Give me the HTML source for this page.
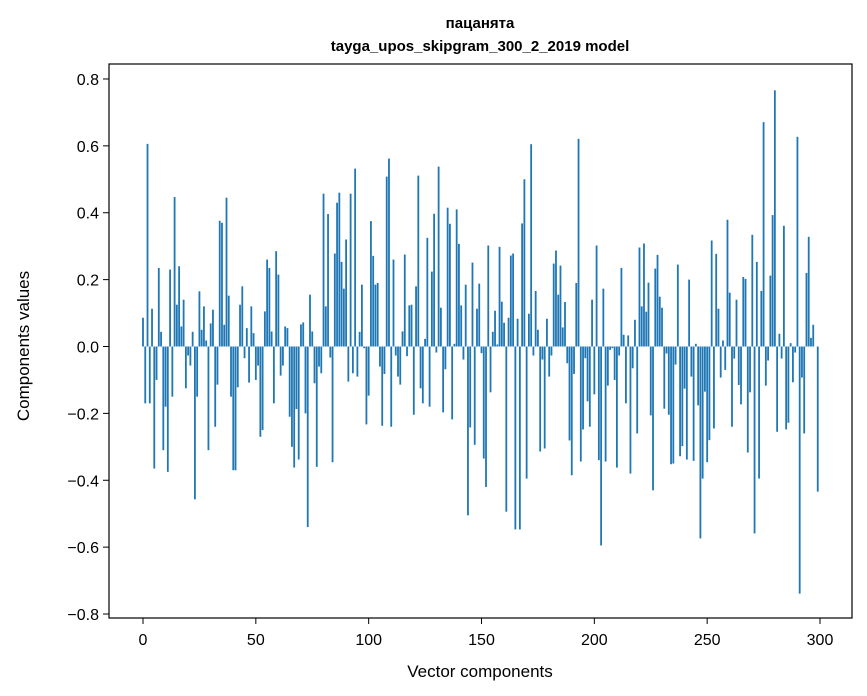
<!DOCTYPE html>
<html><head><meta charset="utf-8"><style>
body{margin:0;background:#fff;}
svg{display:block;font-family:"Liberation Sans","DejaVu Sans",sans-serif;}
</style></head><body>
<svg id="chart" width="867" height="696" viewBox="0 0 867 696">
<rect width="867" height="696" fill="#fff"/>
<text x="480" y="28" text-anchor="middle" font-size="15" font-weight="bold">пацанята</text>
<text x="480" y="51" text-anchor="middle" font-size="15" font-weight="bold">tayga_upos_skipgram_300_2_2019 model</text>
<g id="bars"></g>
<g id="axes"></g>
<rect x="109" y="64" width="743" height="554" fill="none" stroke="#000" stroke-width="1.2"/>
<text x="480" y="677" text-anchor="middle" font-size="17">Vector components</text>
<text x="29" y="346" text-anchor="middle" font-size="17" transform="rotate(-90 29 346)">Components values</text>
</svg>
<script>
const values1 = [0.086,-0.17,0.606,-0.17,0.113,-0.365,-0.10,0.235,0.044,-0.31,-0.18,-0.375,0.23,-0.15,0.447,0.125,0.24,0.06,0.14,-0.125,-0.027,-0.057,0.044,-0.457,-0.15,0.165,0.05,0.12,0.018,-0.31,0.069,0.11,-0.24,-0.114,0.376,0.37,0.065,0.445,0.152,-0.15,-0.37,-0.37,-0.122,0.125,0.18,-0.035,0.055,-0.108,0.12,0.04,-0.1];
const values2 = [-0.057,-0.27,-0.25,0.105,0.26,0.235,0.045,-0.17,0.285,0.215,-0.087,-0.057,0.06,0.055,-0.21,-0.3,-0.362,-0.187,-0.338,0.066,0.072,-0.2,-0.54,0.155,0.045,-0.11,-0.36,-0.06,-0.08,0.457,0.12,0.396,-0.033,-0.346,0.278,0.43,0.46,0.253,0.173,0.32,-0.105,0.457,-0.08,0.532,-0.09,0.044,0.185,-0.005,-0.233,-0.147];
const values3 = [0.375,0.271,0.185,0.19,-0.06,-0.237,-0.082,0.508,0.562,-0.24,0.26,-0.027,-0.09,-0.114,0.045,0.275,-0.029,0.123,0.125,-0.204,0.18,0.511,-0.125,-0.17,0.023,0.325,-0.18,0.224,0.397,-0.018,0.538,0.116,-0.197,-0.068,0.415,0.367,-0.218,0.008,0.41,0.307,0.123,-0.039,0.185,-0.505,-0.242,0.251,-0.294,0.113,0.188];
const values4 = [-0.02,-0.335,-0.42,0.302,-0.137,0.044,0.107,0.006,0.298,0.134,0.071,-0.494,0.086,0.272,0.278,-0.547,0.083,-0.547,0.368,0.5,-0.395,0.098,0.605,-0.027,0.166,0.05,-0.314,-0.039,-0.305,0.083,-0.09,-0.027,0.248,0.287,0.155,0.242,0.057,0.133,-0.05,-0.281,-0.385,-0.082,0.19,0.621,-0.344,-0.248,-0.035,-0.164,-0.24,0.14];
const values5 = [-0.143,0.302,-0.34,-0.595,0.173,-0.344,-0.117,-0.01,-0.005,-0.1,-0.362,-0.027,0.235,0.035,-0.17,0.033,-0.38,-0.065,0.08,-0.26,0.296,0.12,0.308,0.104,0.191,-0.206,-0.43,0.233,0.274,0.149,0.116,-0.186,-0.021,-0.204,-0.352,-0.35,-0.054,0.245,-0.328,-0.298,-0.126,-0.338,0.2,-0.09,-0.342,0.008,-0.176,-0.574];
const values6 = [-0.395,-0.135,-0.346,-0.28,0.317,-0.245,0.277,0.113,-0.093,0.018,-0.07,0.379,0.161,-0.24,-0.036,0.14,-0.115,-0.173,0.208,0.202,-0.317,-0.137,0.334,-0.559,0.253,-0.395,0.166,0.671,-0.117,-0.042,0.212,0.393,0.766,-0.255,0.038,-0.036,0.361,-0.248,-0.228,0.01,-0.107,-0.018,0.627,-0.739,-0.093,-0.26,0.22,0.328,0.026,0.065,0,-0.434];
const values = values1.concat(values2, values3, values4, values5, values6);
const xTicks = [0,50,100,150,200,250,300];
const yTicks = [-0.8,-0.6,-0.4,-0.2,0.0,0.2,0.4,0.6,0.8];

const NS = "http://www.w3.org/2000/svg";
function xScale(v){ return 143 + v * (677/300); }
function yScale(v){ return 346.5 - v * 334.4; }
const barsG = document.getElementById('bars');
values.forEach((v, i) => {
  const r = document.createElementNS(NS, 'rect');
  const y0 = yScale(0), y1 = yScale(v);
  r.setAttribute('x', xScale(i - 0.4));
  r.setAttribute('width', xScale(0.8) - xScale(0));
  r.setAttribute('y', Math.min(y0, y1));
  r.setAttribute('height', Math.abs(y1 - y0));
  r.setAttribute('fill', '#1f77b4');
  
  
  barsG.appendChild(r);
});
const axesG = document.getElementById('axes');
xTicks.forEach(t => {
  const x = xScale(t);
  const l = document.createElementNS(NS, 'line');
  l.setAttribute('x1', x); l.setAttribute('x2', x);
  l.setAttribute('y1', 618); l.setAttribute('y2', 624);
  l.setAttribute('stroke', '#000');
  
  
  axesG.appendChild(l);
  const tx = document.createElementNS(NS, 'text');
  tx.setAttribute('x', x); tx.setAttribute('y', 645);
  tx.setAttribute('text-anchor', 'middle'); tx.setAttribute('font-size', '16');
  tx.textContent = t;
  
  
  axesG.appendChild(tx);
});
yTicks.forEach(t => {
  const y = yScale(t);
  const l = document.createElementNS(NS, 'line');
  l.setAttribute('x1', 103); l.setAttribute('x2', 109);
  l.setAttribute('y1', y); l.setAttribute('y2', y);
  l.setAttribute('stroke', '#000');
  
  
  axesG.appendChild(l);
  const tx = document.createElementNS(NS, 'text');
  tx.setAttribute('x', 99); tx.setAttribute('y', y + 6);
  tx.setAttribute('text-anchor', 'end'); tx.setAttribute('font-size', '16');
  tx.textContent = (t < 0 ? '\u2212' : '') + Math.abs(t).toFixed(1);
  
  
  axesG.appendChild(tx);
});
</script>
</body></html>
